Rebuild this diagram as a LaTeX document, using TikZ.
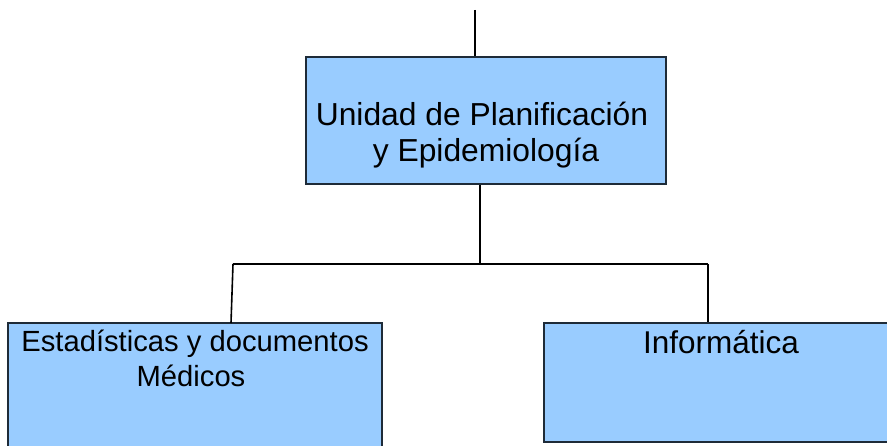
\documentclass[tikz,border=0pt]{standalone}
\usepackage{fontspec}
\setmainfont{Liberation Sans}
\definecolor{boxfill}{HTML}{99CCFF}
\definecolor{boxline}{HTML}{1E2B38}
\begin{document}
\begin{tikzpicture}[x=1pt,y=-1pt,
  unitbox/.style={draw=boxline,fill=boxfill,line width=1.6pt,inner sep=0pt,rectangle},
  conn/.style={line width=1.6pt,black},
  lbl/.style={anchor=base,inner sep=0pt,text=black}]
\useasboundingbox (0,0) rectangle (887,446);
\clip (0,0) rectangle (887,446);
% boxes
\node[unitbox,minimum width=360pt,minimum height=127pt] (top) at (486,120.5) {};
\node[unitbox,minimum width=374pt,minimum height=140pt] (est) at (195,393) {};
\node[unitbox,minimum width=354pt,minimum height=119pt] (inf) at (721,382.5) {};
% texts
\node[lbl,font=\fontsize{31.8}{36}\selectfont] (t1) at (482,126) {Unidad de Planificación};
\node[lbl,font=\fontsize{31.8}{36}\selectfont] (t2) at (486,162) {y Epidemiología};
\node[lbl,font=\fontsize{29.2}{34}\selectfont] (e1) at (195,352) {Estadísticas y documentos};
\node[lbl,font=\fontsize{29.2}{34}\selectfont] (e2) at (191,387) {Médicos};
\node[lbl,font=\fontsize{31.5}{35}\selectfont] (i1) at (721,354) {Informática};
% connectors
\coordinate (up) at (475,10);
\coordinate (j) at (480,264);
\coordinate (jl) at (233,264);
\coordinate (jr) at (708,264);
\coordinate (el) at (231,323);
\draw[conn] (up) -- (up |- top.north);
\draw[conn] (top.south -| j) -- (j);
\draw[conn] (jl) -- (jr);
\draw[conn] (jl) -- (el);
\draw[conn] (jr) -- (jr |- inf.north);
\end{tikzpicture}
\end{document}
